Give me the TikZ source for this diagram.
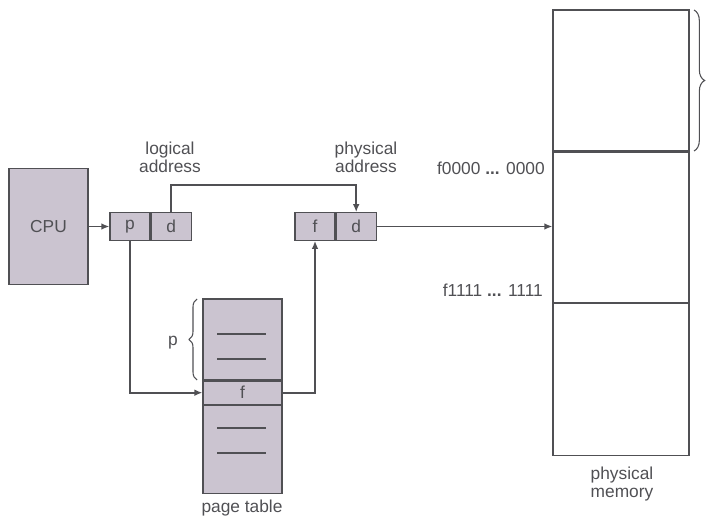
\documentclass[tikz,border=0pt]{standalone}
\usepackage{fontspec}
\setmainfont{Liberation Sans}
\usetikzlibrary{positioning,arrows.meta,decorations.pathreplacing}
\definecolor{boxfill}{RGB}{203,196,208}
\definecolor{ink}{RGB}{80,80,84}
\begin{document}
\begin{tikzpicture}[x=0.75pt, y=-0.75pt, font=\fontsize{13}{13.5}\selectfont, text=ink, draw=ink,
  cell/.style={draw=ink, fill=boxfill, line width=0.9pt, minimum width=30pt, minimum height=20.6pt, inner sep=0pt},
  ptab/.style={draw=ink, fill=boxfill, line width=0.9pt, minimum width=59.25pt, inner sep=0pt},
  frame/.style={draw=ink, line width=0.9pt, minimum width=102pt, inner sep=0pt},
  label/.style={align=center, inner sep=0pt},
  rel/.style={-{Latex[length=6pt,width=5pt]}, line width=1.2pt, ink}]
\useasboundingbox (0,0) rectangle (712,523);
\node[cell, minimum width=59.25pt, minimum height=87pt] (cpu) at (48.5,226.5) {CPU};
\node[cell] (lp) at (130,226.5) {p};
\node[cell, right=0pt of lp] (ld) {d};
\node[cell] (pf) at (315,226.5) {f};
\node[cell, right=0pt of pf] (pd) {d};
\node[label] (logical) at (170,157) {logical\\address};
\node[label] (physical) at (366,157) {physical\\address};
% page table
\node[ptab, minimum height=60.75pt] (ptop) at (242.5,339.5) {};
\node[ptab, minimum height=17.25pt, below=0pt of ptop] (pfrow) {f};
\node[ptab, minimum height=66pt, below=0pt of pfrow] (pbot) {};
\foreach \y in {334,359,428,453}
  \draw[line width=0.9pt] (217,\y) -- (266,\y);
\node[label] (ptlabel) at (242,508) {page table};
\draw[decorate, decoration={brace, amplitude=6pt}, line width=0.8pt] (197,380) -- (197,299);
\node[label] (pindex) at (173,343) {p};
% physical memory
\node[frame, minimum height=105.75pt] (mem1) at (621,80.5) {};
\node[frame, minimum height=112.5pt, below=0pt of mem1] (mem2) {};
\node[frame, minimum height=114pt, below=0pt of mem2] (mem3) {};
\node[label] (memlabel) at (622,484) {physical\\memory};
\draw[decorate, decoration={brace, amplitude=8pt}, line width=0.8pt] (694,10) -- (694,151);
\node[label, anchor=east] (flow) at (545,168) {f0000 \textbf{...} 0000};
\node[label, anchor=east] (fhigh) at (543,290) {f1111 \textbf{...} 1111};
% connectors
\draw[rel] (cpu) -- (lp);
\draw[rel] (ld.north) -- ++(0,-27) -| (pd.north);
\draw[rel] (lp.south) |- (pfrow.west);
\draw[rel] (pfrow.east) -| (pf.south);
\draw[rel] (pd.east) -- (pd.east -| mem2.west);
\end{tikzpicture}
\end{document}
